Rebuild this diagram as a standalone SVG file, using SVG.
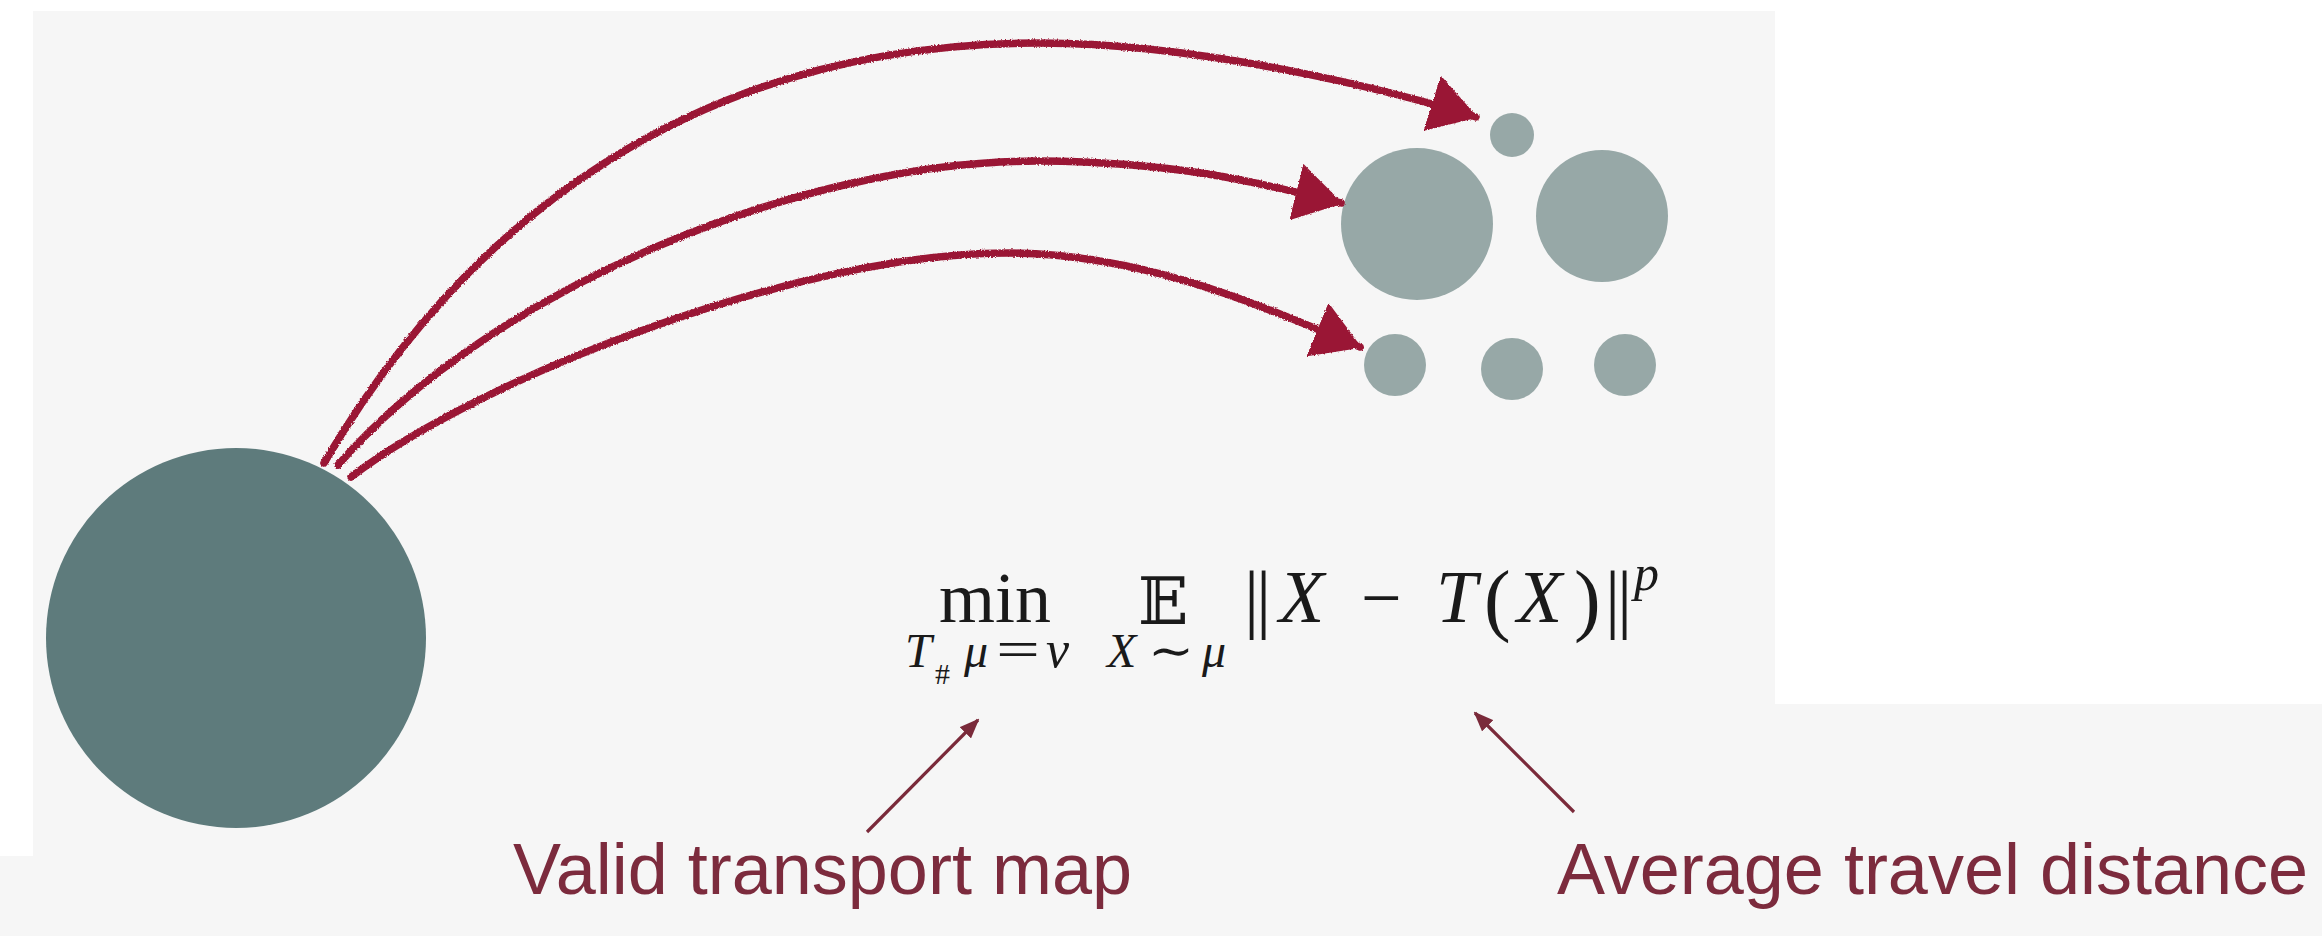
<svg xmlns="http://www.w3.org/2000/svg" width="2322" height="936" viewBox="0 0 2322 936">
  <style>
    .src { fill: #5e7b7c; }
    .dst { fill: #97a8a7; }
    .flow { fill: none; stroke: #9a1836; stroke-width: 7.5; stroke-linecap: round; }
    .pointer { fill: none; stroke: #7a2a3a; stroke-width: 3.2; }
    .label { font-family: "Liberation Sans", Arial, sans-serif; font-size: 72px; fill: #7c2b3d; }
    .m { font-family: "Liberation Serif", "DejaVu Serif", serif; fill: #1a1a1a; }
    .i { font-style: italic; }
  </style>
  <defs>
    <marker id="flowHead" markerUnits="userSpaceOnUse" viewBox="0 0 48 58" markerWidth="48" markerHeight="58" refX="46" refY="29" orient="auto">
      <path d="M0,0 L48,29 L0,58 Z" fill="#9a1836"/>
    </marker>
    <marker id="pointerHead" markerUnits="userSpaceOnUse" viewBox="0 0 20 16" markerWidth="20" markerHeight="16" refX="18" refY="8" orient="auto">
      <path d="M0,0 L20,8 L0,16 Z" fill="#7a2a3a"/>
    </marker>
    <filter id="crayon" filterUnits="userSpaceOnUse" x="0" y="0" width="2322" height="936">
      <feTurbulence type="fractalNoise" baseFrequency="0.7" numOctaves="2" seed="4" result="n"/>
      <feDisplacementMap in="SourceGraphic" in2="n" scale="3" xChannelSelector="R" yChannelSelector="G"/>
    </filter>
  </defs>

  <!-- backdrop -->
  <rect x="0" y="0" width="2322" height="936" fill="#f6f6f6"/>
  <rect x="1775" y="0" width="547" height="704" fill="#ffffff"/>
  <rect x="0" y="0" width="1775" height="11" fill="#ffffff"/>
  <rect x="0" y="0" width="33" height="856" fill="#ffffff"/>

  <!-- source mass -->
  <g id="source">
    <circle class="src" cx="236" cy="638" r="190"/>
  </g>

  <!-- target masses -->
  <g id="target-top-dot"><circle class="dst" cx="1512" cy="135" r="22"/></g>
  <g id="target-big-left"><circle class="dst" cx="1417" cy="224" r="76"/></g>
  <g id="target-big-right"><circle class="dst" cx="1602" cy="216" r="66"/></g>
  <g id="target-low-1"><circle class="dst" cx="1395" cy="365" r="31"/></g>
  <g id="target-low-2"><circle class="dst" cx="1512" cy="369" r="31"/></g>
  <g id="target-low-3"><circle class="dst" cx="1625" cy="365" r="31"/></g>

  <!-- transport arrows -->
  <g id="connectors">
    <g filter="url(#crayon)">
      <path class="flow" marker-end="url(#flowHead)" d="M324,463 C470,215 700,43 1040,43 C1200,43 1390,90 1476,117"/>
      <path class="flow" marker-end="url(#flowHead)" d="M338,465 C490,290 800,160 1040,161 C1180,162 1260,183 1341,203"/>
      <path class="flow" marker-end="url(#flowHead)" d="M351,477 C480,378 800,252 1010,253 C1150,254 1270,310 1360,347"/>
    </g>
    <path class="pointer" marker-end="url(#pointerHead)" d="M867,832 L978,720"/>
    <path class="pointer" marker-end="url(#pointerHead)" d="M1574,812 L1475,713"/>
  </g>

  <!-- objective: min over pushforward maps of the expected p-th power distance -->
  <g id="objective">
    <text class="m"><tspan x="939" y="622" font-size="72">min</tspan><tspan x="1138" y="624" font-size="66" font-family="DejaVu Serif, DejaVu Sans, serif">𝔼</tspan><tspan x="1244" y="624" font-size="76">|</tspan><tspan x="1256" y="624" font-size="76">|</tspan><tspan class="i" x="1279" y="622" font-size="74">X</tspan><tspan x="1361" y="622" font-size="72">−</tspan><tspan class="i" x="1436" y="622" font-size="74">T</tspan><tspan x="1484" y="626" font-size="80">(</tspan><tspan class="i" x="1517" y="622" font-size="74">X</tspan><tspan x="1574" y="626" font-size="80">)</tspan><tspan x="1605" y="624" font-size="76">|</tspan><tspan x="1617" y="624" font-size="76">|</tspan><tspan class="i" x="1634" y="590" font-size="50">p</tspan><tspan class="i" x="905" y="667" font-size="48">T</tspan><tspan x="935" y="684" font-size="30">#</tspan><tspan class="i" x="964" y="667" font-size="48">μ</tspan><tspan x="996" y="667" font-size="52" textLength="44" lengthAdjust="spacingAndGlyphs">=</tspan><tspan class="i" x="1046" y="667" font-size="52">ν</tspan><tspan class="i" x="1107" y="667" font-size="48">X</tspan><tspan x="1148" y="667" font-size="48" textLength="46" lengthAdjust="spacingAndGlyphs">∼</tspan><tspan class="i" x="1202" y="667" font-size="48">μ</tspan></text>
  </g>

  <!-- annotations -->
  <g id="label-valid-map">
    <text class="label" x="513" y="894">Valid transport map</text>
  </g>
  <g id="label-travel-distance">
    <text class="label" x="1557" y="894">Average travel distance</text>
  </g>
</svg>
